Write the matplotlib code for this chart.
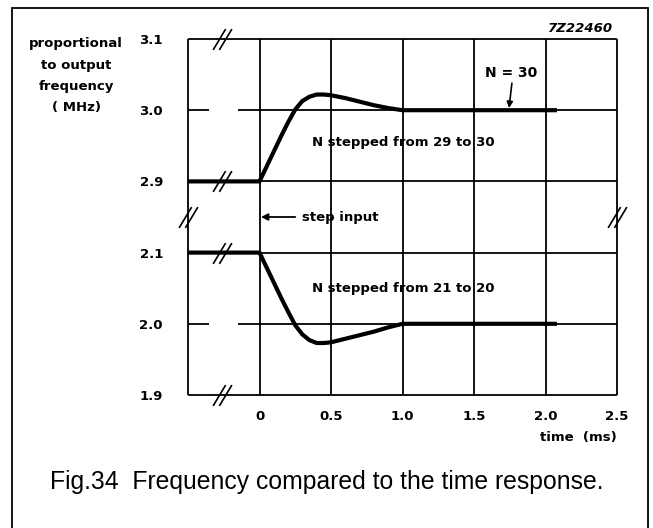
import numpy as np
import matplotlib
matplotlib.use("Agg")
from matplotlib import pyplot as plt
from matplotlib.path import Path
from matplotlib.patches import Rectangle
from matplotlib.transforms import ScaledTranslation

# time axis (ms) and the two responses
t = [-0.5, 0.0, 0.05, 0.1, 0.15, 0.2, 0.25, 0.3, 0.35, 0.4, 0.45, 0.5,
     0.6, 0.7, 0.8, 0.9, 1.0, 2.08]
f_up = [2.9, 2.9, 2.921, 2.942, 2.963, 2.983, 3.001, 3.013, 3.019, 3.022,
        3.022, 3.021, 3.017, 3.012, 3.007, 3.003, 3.0, 3.0]
f_down = [2.1, 2.1, 2.079, 2.058, 2.037, 2.017, 1.998, 1.985, 1.977, 1.973,
          1.973, 1.974, 1.979, 1.984, 1.989, 1.995, 2.0, 2.0]

x_ticks = [0, 0.5, 1.0, 1.5, 2.0, 2.5]
x_labels = ["0", "0.5", "1.0", "1.5", "2.0", "2.5"]
y_ticks = [1.9, 2.0, 2.1, 2.9, 3.0, 3.1]
y_labels = ["1.9", "2.0", "2.1", "2.9", "3.0", "3.1"]


# broken y axis: everything above 2.5 is shifted down so that 2.9 sits
# one grid step above 2.1
def fwd(y):
    y = np.asarray(y, dtype=float)
    return np.where(y > 2.5, y - 0.7, y)


def inv(y):
    y = np.asarray(y, dtype=float)
    return np.where(y > 2.175, y + 0.7, y)


fig = plt.figure(figsize=(6.53, 5.28), dpi=100)
ax = fig.add_axes([188 / 653, 1 - 395 / 528, 429 / 653, 356 / 528])
ax.set_yscale("function", functions=(fwd, inv))
ax.set_xlim(-0.5, 2.5)
ax.set_ylim(1.9, 3.1)
for s in ax.spines.values():
    s.set_visible(False)

lw_grid = 1.3
# grid and frame
ax.vlines([-0.5, 0, 0.5, 1.0, 1.5, 2.0, 2.5], 1.9, 3.1, color="black",
          lw=lw_grid, clip_on=False)
ax.hlines([3.1, 2.9, 2.1, 1.9], -0.5, 2.5, color="black", lw=lw_grid,
          clip_on=False)
for yv in [3.0, 2.0]:
    ax.hlines(yv, -0.5, -0.35, color="black", lw=lw_grid, clip_on=False)
    ax.hlines(yv, -0.15, 2.5, color="black", lw=lw_grid, clip_on=False)

# responses
ax.plot(t, f_up, color="black", lw=3, solid_capstyle="butt", clip_on=False)
ax.plot(t, f_down, color="black", lw=3, solid_capstyle="butt", clip_on=False)

# break marks "//"
brk = Path([(-0.9, -1), (0.3, 1), (-0.3, -1), (0.9, 1)],
           [Path.MOVETO, Path.LINETO, Path.MOVETO, Path.LINETO])
ax.plot([-0.26] * 4, [3.1, 2.9, 2.1, 1.9], ls="none", marker=brk, ms=15,
        mec="black", mew=1.2, clip_on=False)
ax.plot([-0.5, 2.5], [2.15, 2.15], ls="none", marker=brk, ms=15,
        mec="black", mew=1.2, clip_on=False)

ax.set_xticks(x_ticks, x_labels)
ax.set_yticks(y_ticks, y_labels)
ax.yaxis.set_minor_locator(matplotlib.ticker.NullLocator())
ax.tick_params(length=0, labelsize=9.5)
ax.tick_params(axis="y", pad=18)
ax.tick_params(axis="x", pad=11)
for lab in ax.get_xticklabels() + ax.get_yticklabels():
    lab.set_fontweight("bold")

bold = dict(fontsize=9.5, fontweight="bold", color="black")
ax.text(2.47, 3.106, "7Z22460", ha="right", va="bottom", style="italic", **bold)
ax.text(1.76, 3.052, "N = 30", ha="center", va="center", fontsize=10,
        fontweight="bold")
ax.annotate("", xy=(1.745, 3.003), xytext=(1.765, 3.038),
            arrowprops=dict(arrowstyle="-|>", color="black", lw=1.2,
                            mutation_scale=9, shrinkA=0, shrinkB=0))
ax.text(0.37, 2.955, "N stepped from 29 to 30", ha="left", va="center", **bold)
ax.text(0.37, 2.049, "N stepped from 21 to 20", ha="left", va="center", **bold)
ax.annotate("", xy=(0.01, 2.15), xytext=(0.25, 2.15),
            arrowprops=dict(arrowstyle="-|>", color="black", lw=1.3,
                            mutation_scale=10, shrinkA=0, shrinkB=0))
ax.text(0.30, 2.15, "step input", ha="left", va="center", **bold)
ax.text(2.5, 1.9, "time  (ms)", ha="right", va="top",
        transform=ax.transData + ScaledTranslation(0, -0.36, fig.dpi_scale_trans),
        **bold)

fig.text(76 / 653, 1 - 37 / 528, "proportional\nto output\nfrequency\n( MHz)",
         ha="center", va="top", linespacing=1.85, **bold)

fig.text(0.5, 1 - 482 / 528, "Fig.34  Frequency compared to the time response.",
         ha="center", va="center", fontsize=17.8, family="Liberation Sans")

fig.patches.append(Rectangle((12 / 653, -0.05), 636 / 653, 1.05 - 8 / 528,
                             transform=fig.transFigure, fill=False,
                             edgecolor="black", lw=1.3))

fig.savefig("out.png", dpi=100)
